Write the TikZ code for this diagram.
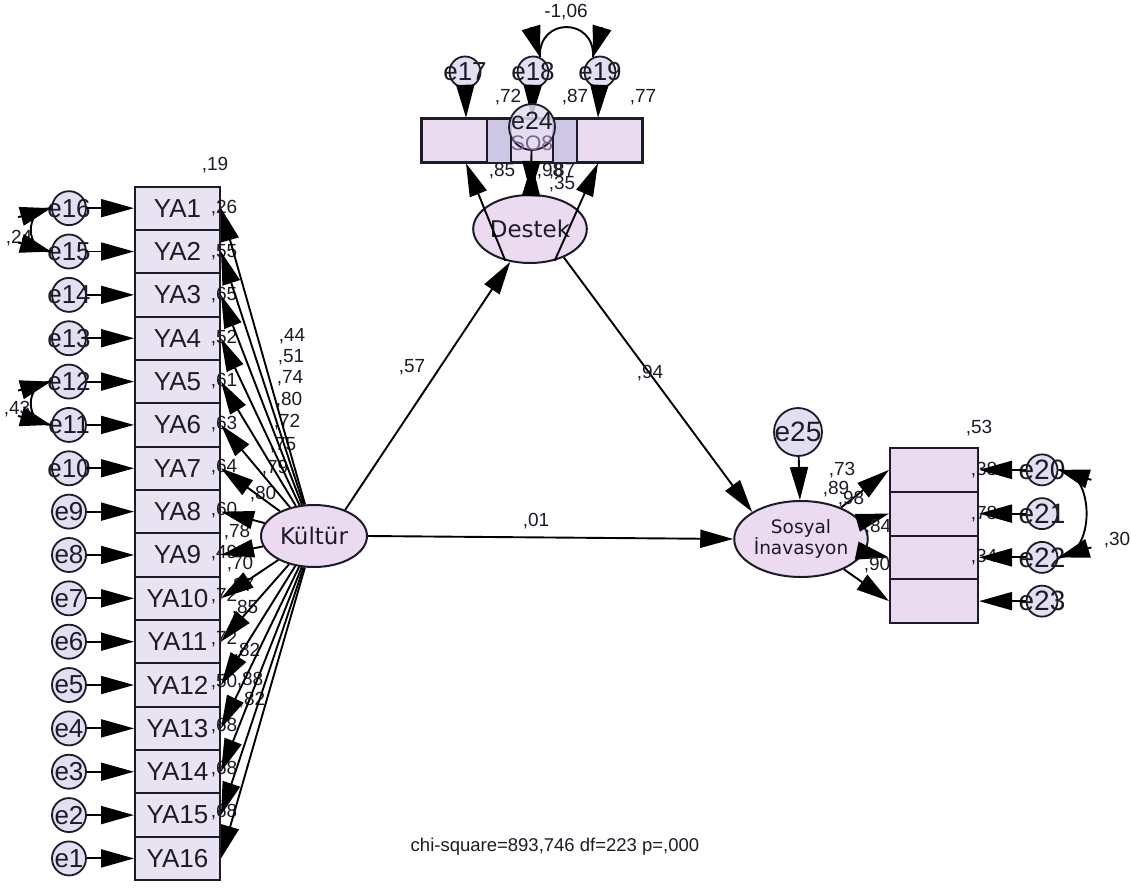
\documentclass[tikz,border=0pt]{standalone}
\usepackage{fontspec}
\setmainfont{Liberation Sans}
\newfontfamily\latfont{DejaVu Sans}
\usetikzlibrary{shapes.geometric,arrows.meta}

\definecolor{boxfill}{RGB}{232,226,242}
\definecolor{itemfill}{RGB}{234,218,240}
\definecolor{overlapfill}{RGB}{205,198,228}
\definecolor{latfill}{RGB}{236,218,240}
\definecolor{errfill}{RGB}{228,222,242}
\definecolor{ink}{RGB}{28,28,40}
\definecolor{faint}{RGB}{120,100,140}

\tikzset{
  obs/.style={draw=ink, line width=2pt, fill=boxfill, minimum width=85pt,
    minimum height=43.35pt, inner sep=0pt, font=\fontsize{26}{26}\selectfont, text=ink},
  item/.style={draw=ink, line width=2pt, fill=itemfill, minimum width=88pt,
    minimum height=43.5pt, inner sep=0pt},
  err/.style={circle, draw=ink, line width=1.8pt, fill=errfill, minimum size=34pt,
    inner sep=0pt},
  errtext/.style={font=\fontsize{26}{26}\selectfont, text=ink, inner sep=0pt},
  lat/.style={ellipse, draw=ink, line width=2pt, fill=latfill, inner sep=0pt,
    text=ink},
  reg/.style={draw=black, line width=1.9pt, -{Triangle[length=33pt,width=18pt]}},
  arc/.style={draw=black, line width=1.9pt},
  covtip/.style={draw=black, line width=1.9pt, -{Triangle[length=31pt,width=19pt]}},
  lbl/.style={font=\fontsize{19}{19}\selectfont, inner sep=0pt, text=ink},
}

\begin{document}
\begin{tikzpicture}[x=1pt,y=-1pt]
\useasboundingbox (0,0) rectangle (1131,888);
\fill[white] (0,0) rectangle (1131,888);

% ---------- latent variables ----------
\node[lat, minimum width=106pt, minimum height=62pt,
      font=\latfont\fontsize{23}{23}\selectfont] (kult) at (314,536) {Kültür};
\node[lat, minimum width=104pt, minimum height=68pt,
      font=\latfont\fontsize{23}{23}\selectfont] (dest) at (530,229) {Destek};
\node[lat, minimum width=102pt, minimum height=76pt, align=center,
      font=\latfont\fontsize{18.5}{21}\selectfont] (sos) at (801,539) {Sosyal\\İnavasyon};

% ---------- Kültür indicators with their error terms ----------
\foreach \i in {1,...,16}{
  \pgfmathtruncatemacro\e{17-\i}
  \node[obs] (ya\i) at (177.5,{186.5+43.35*(\i-0.5)}) {YA\i};
  \node[err, label={[errtext]center:e\e}] (e\e) at (69,{186.5+43.35*(\i-0.5)}) {};
}

% squared multiple correlations of the YA items
\node[lbl] at (215,165) {,19};
\node[lbl] at (224,208) {,26};
\node[lbl] at (224,252) {,55};
\node[lbl] at (224,295) {,65};
\node[lbl] at (224,338) {,52};
\node[lbl] at (224,381) {,61};
\node[lbl] at (224,424) {,63};
\node[lbl] at (224,467) {,64};
\node[lbl] at (224,510) {,60};
\node[lbl] at (224,553) {,49};
\node[lbl] at (224,596) {,72};
\node[lbl] at (224,639) {,72};
\node[lbl] at (224,682) {,50};
\node[lbl] at (224,726) {,68};
\node[lbl] at (224,769) {,68};
\node[lbl] at (224,812) {,68};

% standardized loadings on Kültür
\node[lbl] at (292,336) {,44};
\node[lbl] at (291,357) {,51};
\node[lbl] at (290,378) {,74};
\node[lbl] at (289,400) {,80};
\node[lbl] at (287,422) {,72};
\node[lbl] at (283,445) {,75};
\node[lbl] at (275,468) {,79};
\node[lbl] at (263,494) {,80};
\node[lbl] at (237,532) {,78};
\node[lbl] at (240,564) {,70};
\node[lbl] at (241,586) {,87};
\node[lbl] at (245,608) {,85};
\node[lbl] at (247,651) {,82};
\node[lbl] at (250,680) {,88};
\node[lbl] at (252,700) {,82};

% error covariances on the left
\node[lbl] at (19,238) {,24};
\node[lbl] at (17,409) {,43};

\foreach \i in {1,...,16}{
  \pgfmathtruncatemacro\e{17-\i}
  \draw[reg] (e\e) -- (ya\i);
  \draw[reg] (kult) -- (ya\i.east);
}
\draw[arc] (e16.west) .. controls (24,208) and (24,252) .. (e15.west);
\draw[covtip] ([xshift=-33pt,yshift=-9pt]e16.west) -- (e16.west);
\draw[covtip] ([xshift=-33pt,yshift=9pt]e15.west) -- (e15.west);
\draw[arc] (e12.west) .. controls (24,382) and (24,425) .. (e11.west);
\draw[covtip] ([xshift=-33pt,yshift=-9pt]e12.west) -- (e12.west);
\draw[covtip] ([xshift=-33pt,yshift=9pt]e11.west) -- (e11.west);

% ---------- Destek indicators ----------
\node[item] (da) at (466,140.5) {};
\node[item] (db) at (532,140.5) {};
\node[item] (dc) at (598,140.5) {};
\fill[overlapfill] (488,119.5) rectangle (510,161.5);
\fill[overlapfill] (554,119.5) rectangle (576,161.5);
\draw[ink, line width=2pt] (da.north west) rectangle (da.south east);
\draw[ink, line width=2pt] (db.north west) rectangle (db.south east);
\draw[ink, line width=2pt] (dc.north west) rectangle (dc.south east);

\node[err, minimum size=31pt, label={[errtext]center:e17}] (e17) at (465,72) {};
\node[err, minimum size=31pt, label={[errtext]center:e18}] (e18) at (533,72) {};
\node[err, minimum size=31pt, label={[errtext]center:e19}] (e19) at (600,72) {};

\draw[reg] (e17) -- (da.north);
\draw[reg] (e18) -- (db.north);
\draw[reg] (e19) -- (dc.north);
\draw[arc] (e18.65) .. controls (538,17) and (595,17) .. (e19.115);
\draw[covtip] ([xshift=-9pt,yshift=30pt]e18.65) -- (e18.65);
\draw[covtip] ([xshift=9pt,yshift=30pt]e19.115) -- (e19.115);
\node[lbl] at (566,12) {-1,06};

\node[lbl] at (508,97) {,72};
\node[lbl] at (575,97) {,87};
\node[lbl] at (643,97) {,77};

\node[err, minimum size=46pt, fill opacity=0.85] (e24) at (532,127) {};
\node[font=\fontsize{25}{25}\selectfont, text=ink, inner sep=0pt] at (532,121) {e24};
\node[font=\fontsize{21}{21}\selectfont, text=faint, inner sep=0pt] at (532,143) {SO8};

\draw[reg] (dest.-128) -- (da.south);
\draw[reg] (dest) -- (db.south);
\draw[reg] (dest.-52) -- (dc.south);
\draw[reg] (e24) -- (dest);

\node[lbl] at (502,171) {,85};
\node[lbl] at (550,171) {,98};
\node[lbl] at (562,171) {,87};
\node[lbl] at (562,184) {,35};

% ---------- Sosyal İnavasyon indicators ----------
\foreach \i/\e in {1/20,2/21,3/22,4/23}{
  \node[item, minimum width=88pt, minimum height=43.75pt]
    (si\i) at (934,{448+43.75*(\i-0.5)}) {};
  \node[err, minimum size=31pt, label={[errtext, font=\fontsize{28}{28}\selectfont]center:e\e}]
    (e\e) at (1042,{448+43.75*(\i-0.5)}) {};
}
\node[lbl] at (979,428) {,53};
\node[lbl] at (984,470) {,38};
\node[lbl] at (984,514) {,78};
\node[lbl] at (984,557) {,34};

\foreach \i/\e in {1/20,2/21,3/22,4/23}{
  \draw[reg] (e\e) -- (si\i.east);
  \draw[reg] (sos) -- (si\i.west);
}
\draw[arc] (e20.east) .. controls (1096,470) and (1096,557) .. (e22.east);
\draw[covtip] ([xshift=33pt,yshift=-10pt]e20.east) -- (e20.east);
\draw[covtip] ([xshift=33pt,yshift=10pt]e22.east) -- (e22.east);
\node[lbl] at (1117,540) {,30};

\node[lbl] at (842,470) {,73};
\node[lbl] at (836,489) {,89};
\node[lbl] at (851,499) {,98};
\node[lbl] at (878,527) {,84};
\node[lbl] at (877,565) {,90};

\node[err, minimum size=48pt, label={[errtext, font=\fontsize{28}{28}\selectfont]center:e25}]
  (e25) at (798,432) {};
\draw[reg] (e25) -- (sos);

% ---------- structural paths ----------
\draw[reg] (kult.40) -- (dest.-121);
\draw[reg] (dest.-40) -- (sos.151);
\draw[reg] (kult.east) -- (sos.west);
\node[lbl] at (412,367) {,57};
\node[lbl] at (650,373) {,94};
\node[lbl] at (536,521) {,01};

% ---------- fit statistics ----------
\node[font=\fontsize{18.5}{18.5}\selectfont, text=ink, inner sep=0pt] (fit) at (555,847)
  {chi-square=893,746 df=223 p=,000};
\end{tikzpicture}
\end{document}
